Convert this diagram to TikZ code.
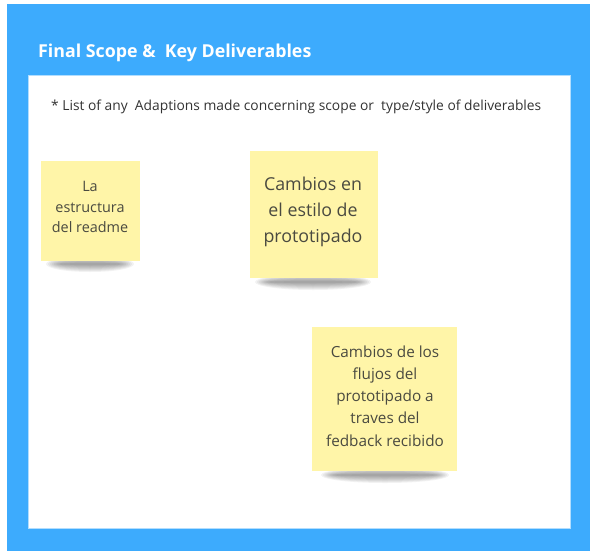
\documentclass[tikz,border=0pt]{standalone}
\usepackage{fontspec}
\setmainfont{Open Sans}
\usetikzlibrary{positioning,fadings}
\definecolor{boardblue}{HTML}{3DABFD}
\definecolor{noteyellow}{HTML}{FFF5A8}
\definecolor{notetext}{HTML}{4A4A40}
\tikzset{
  note/.style={fill=noteyellow},
  notetxt/.style={text=notetext, align=center, font=\fontsize{#1pt}{\dimexpr #1pt*29/20\relax}\selectfont},
}
\begin{document}
\begin{tikzpicture}[x=1pt,y=-1pt]
		\useasboundingbox (0,0) rectangle (596,551);
		\fill[white] (0,0) rectangle (596,551);
		% board
		\fill[boardblue] (7,4) rectangle (590,551);
		\fill[white, draw=boardblue!40] (28,75) rectangle (570,528);
		\node[anchor=base west, inner sep=0pt, text=white, font=\fontsize{17.8}{20}\bfseries\selectfont] (title) at (38,57) {Final Scope \&\ \ Key Deliverables};
		\node[anchor=base west, inner sep=0pt, text=black!80, font=\fontsize{13.8}{15}\selectfont] (hint) at (51,110) {* List of any\ \ Adaptions made concerning scope or\ \ type/style of deliverables};
		% shadows
		\foreach \cx/\cy/\w in {90/264/46, 313/282/60, 385/475/66} {
			\foreach \k in {1,...,8}
				\fill[black, opacity=0.05] (\cx,\cy) ellipse ({\w-\k*2} and {9-\k});
		}
		% notes
		\fill[note] (41,161) rectangle (140,261);
		\node[notetxt=14.4] (readme) at (90,207) {La\\estructura\\del readme};
		\fill[note] (250,151) rectangle (378,278);
		\node[notetxt=17.8] (estilo) at (313,212) {Cambios en\\el estilo de\\prototipado};
		\fill[note] (312,327) rectangle (457,471);
		\node[notetxt=15.3] (flujos) at (385,396) {Cambios de los\\flujos del\\prototipado a\\traves del\\fedback recibido};
	\end{tikzpicture}
\end{document}
